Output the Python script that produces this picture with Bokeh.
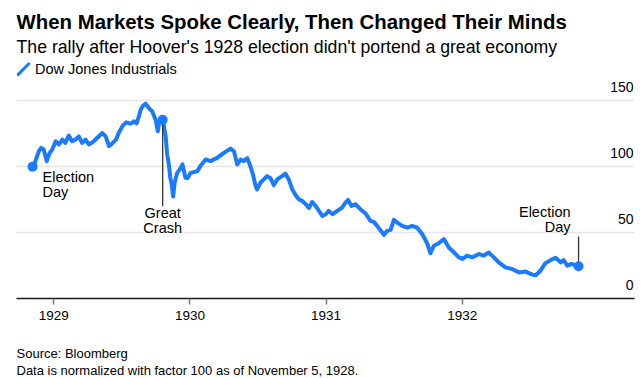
import numpy as np
import pandas as pd
from bokeh.plotting import figure
from bokeh.models import Range1d, FixedTicker, Grid, Title, Legend, LegendItem
from bokeh.core.properties import value
from bokeh.embed import file_html
from bokeh.resources import INLINE

# ---------------- data ----------------
start_date = "1928-11-05"
day_offsets = [0, 6, 17, 23, 30, 38, 46, 53, 62, 71,
               80, 88, 97, 106, 115, 124, 133, 142, 151, 164,
               173, 187, 196, 205, 215, 224, 231, 242, 251, 263,
               272, 279, 286, 290, 295, 303, 312, 321, 330, 336,
               340, 349, 357, 361, 365, 369, 373, 377, 381, 388,
               397, 402, 410, 416, 424, 442, 450, 464, 477, 495,
               513, 531, 540, 549, 558, 566, 576, 584, 591, 598,
               602, 611, 620, 629, 638, 647, 656, 669, 678, 687,
               696, 705, 714, 723, 732, 741, 750, 759, 768, 777,
               786, 794, 805, 817, 830, 839, 846, 855, 866, 879,
               893, 906, 915, 924, 942, 951, 960, 969, 978, 991,
               1005, 1018, 1031, 1045, 1058, 1067, 1076, 1089, 1103, 1116,
               1130, 1143, 1153, 1165, 1179, 1197, 1210, 1223, 1237, 1250,
               1268, 1286, 1304, 1322, 1340, 1349, 1362, 1375, 1389, 1402,
               1416, 1424, 1434, 1445, 1456, 1464]
dow = [100, 102.9, 111.7, 114.2, 113.0, 104.2, 110.4, 113.0, 119.2, 116.8,
       120.5, 118.0, 123.5, 119.2, 120.5, 123.0, 118.0, 120.5, 116.8, 119.2,
       121.7, 125.5, 123.0, 115.5, 118.0, 120.5, 125.5, 131.1, 133.6, 132.6,
       134.3, 132.8, 138.9, 143.2, 145.7, 147.7, 144.4, 141.9, 135.6, 126.8,
       134.3, 135.6, 123.0, 109.2, 102.9, 92.1, 86.8, 77.4, 87.8, 95.3,
       98.9, 101.7, 91.5, 91.3, 95.3, 96.6, 100.4, 105.4, 104.2, 106.6,
       110.4, 113.7, 111.7, 101.7, 105.4, 104.2, 106.4, 100.4, 94.1, 85.3,
       82.8, 87.8, 90.3, 92.8, 91.3, 86.0, 90.3, 92.8, 94.7, 90.3,
       83.0, 78.5, 75.2, 74.0, 71.7, 68.7, 73.2, 70.2, 66.4, 62.6,
       63.9, 66.4, 63.9, 66.4, 68.9, 72.7, 74.7, 70.2, 71.5, 67.7,
       64.5, 58.9, 58.1, 55.1, 48.3, 51.3, 52.1, 59.6, 57.6, 55.1,
       53.8, 55.1, 53.8, 48.8, 41.9, 34.3, 40.0, 41.9, 45.1, 38.7,
       34.9, 31.2, 30.0, 32.5, 31.2, 33.7, 32.5, 34.9, 31.2, 27.4,
       23.6, 22.4, 19.8, 20.4, 18.1, 17.7, 21.1, 26.8, 29.1, 30.9,
       27.4, 29.2, 24.9, 26.2, 24.9, 24.4]
series_name = "Dow Jones Industrials"
tick_years = ["1929", "1930", "1931", "1932"]
y_ticks = [0, 50, 100, 150]
y_tick_labels = ["0", "50", "100", "150"]
title_text = "When Markets Spoke Clearly, Then Changed Their Minds"
subtitle_text = "The rally after Hoover's 1928 election didn't portend a great economy"
footer_text = "Source: Bloomberg\nData is normalized with factor 100 as of November 5, 1928."
# events: index into the series
crash_idx = 41
first_idx = 0
last_idx = len(dow) - 1

# ---------------- style / layout ----------------
FONT = "Liberation Sans"
BLUE = "#1a7bff"
DARK = "#000000"
LEADER = "#333333"
SWATCH_DAY = -24      # legend swatch position (days from start, value units)
SWATCH_VAL = 174

base = pd.Timestamp(start_date)
dates = [base + pd.Timedelta(days=d) for d in day_offsets]
x_start = base + pd.Timedelta(days=-43)
x_end = base + pd.Timedelta(days=1614)

p = figure(width=644, height=378, x_axis_type="datetime", y_axis_location=None,
           title=None, output_backend="svg", toolbar_location=None,
           x_range=Range1d(x_start, x_end), y_range=Range1d(0, 182),
           min_border_left=16, min_border_right=10, min_border_top=58, min_border_bottom=80)
p.outline_line_color = None
p.xgrid.visible = False

grid = Grid(dimension=1, ticker=FixedTicker(ticks=y_ticks[1:]),
            grid_line_color="#e6e6e6", grid_line_width=1.5)
p.add_layout(grid)

# titles
sub = Title(text=subtitle_text, text_font=FONT, text_font_size="17.7px",
            text_font_style="normal", text_color=DARK, align="left", standoff=3)
main = Title(text=title_text, text_font=FONT, text_font_size="20.4px",
             text_font_style="bold", text_color=DARK, align="left", standoff=1)
p.add_layout(sub, "above")
p.add_layout(main, "above")

# x axis
ax = p.xaxis[0]
tick_ms = [pd.Timestamp(f"{y}-01-01").value // 10**6 for y in tick_years]
ax.ticker = FixedTicker(ticks=tick_ms)
ax.major_label_overrides = {t: lab for t, lab in zip(tick_ms, tick_years)}
ax.axis_line_color = "#1a1a1a"
ax.axis_line_width = 1.3
ax.major_tick_line_color = "#777777"
ax.major_tick_line_width = 1.5
ax.major_tick_in = 0
ax.major_tick_out = 6
ax.minor_tick_in = 0
ax.minor_tick_out = 0
ax.major_label_standoff = 6
ax.major_label_text_font = FONT
ax.major_label_text_font_size = "13.5px"
ax.major_label_text_color = DARK

# footer (spacer keeps the gap under the axis)
spacer = Title(text=" ", text_font=FONT, text_font_size="12.5px", standoff=5)
footer = Title(text=footer_text, text_font=FONT, text_font_size="13px",
               text_font_style="normal", text_color=DARK, align="left", standoff=0,
               text_line_height=1.1)
p.add_layout(spacer, "below")
p.add_layout(footer, "below")

# y labels drawn at right edge, above gridlines
p.text(x=[x_end] * len(y_ticks), y=y_ticks, text=y_tick_labels,
       text_align="right", text_baseline="middle", x_offset=-1, y_offset=-13.5,
       text_font=value(FONT), text_font_size="14px", text_color=DARK)

# main line
p.line(dates, dow, line_color=BLUE, line_width=4, line_join="round")

# leaders
crash_leader_end = 70
end_leader_top = 47
p.segment(x0=[dates[crash_idx]], y0=[dow[crash_idx]], x1=[dates[crash_idx]], y1=[crash_leader_end],
          line_color=LEADER, line_width=1.3)
p.segment(x0=[dates[last_idx]], y0=[dow[last_idx]], x1=[dates[last_idx]], y1=[end_leader_top],
          line_color=LEADER, line_width=1.3)

# markers
ev = [first_idx, crash_idx, last_idx]
p.scatter([dates[i] for i in ev], [dow[i] for i in ev], size=10, fill_color=BLUE, line_color=None)

# annotation texts
def note_text_at(idx, lines, xo, yos, align):
    for line, yo in zip(lines, yos):
        p.text(x=[dates[idx]], y=[dow[idx]], text=[line], x_offset=xo, y_offset=yo,
               text_align=align, text_baseline="middle", text_font=value(FONT),
               text_font_size="14.5px", text_color=DARK)

note_text_at(first_idx, ["Election", "Day"], 10, [10, 25], "left")
note_text_at(crash_idx, ["Great", "Crash"], 0, [93, 108], "center")
note_text_at(last_idx, ["Election", "Day"], -8, [-54, -39], "right")

# legend: slanted swatch drawn as a rotated dash; legend box shows only the label
swatch = p.scatter(x=[base + pd.Timedelta(days=SWATCH_DAY)], y=[SWATCH_VAL], marker="dash",
                   size=15, angle=np.pi / 4, line_color=BLUE, line_width=3, line_cap="round")
legend = Legend(items=[LegendItem(label=series_name, renderers=[swatch])],
                location=(19, 217), glyph_width=0, glyph_height=24, label_standoff=0,
                padding=0, margin=0, spacing=0, border_line_color=None,
                background_fill_alpha=0, label_text_font=FONT,
                label_text_font_size="14.5px", label_text_color=DARK)
p.add_layout(legend)

open("out.html", "w").write(file_html(p, INLINE))
